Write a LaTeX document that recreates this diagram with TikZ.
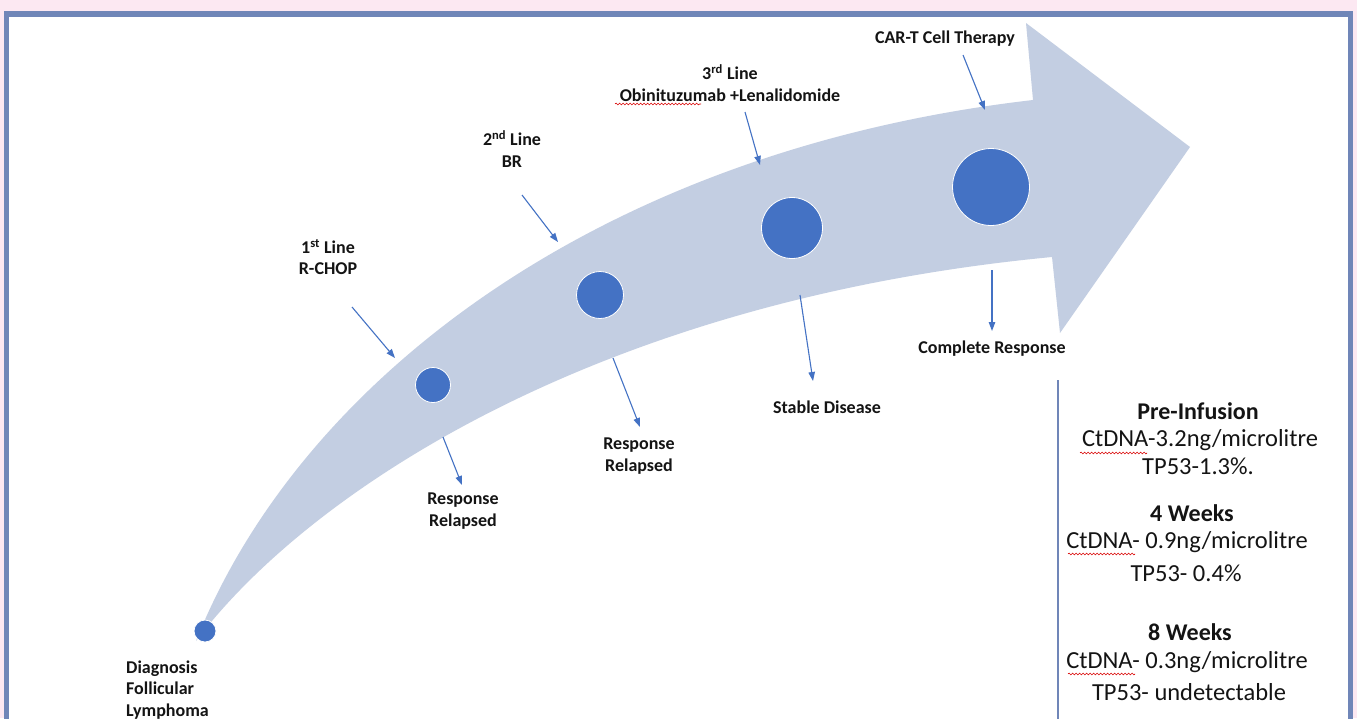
\documentclass[tikz,border=0pt]{standalone}
\usepackage{fontspec}
\setmainfont{Carlito}
\usetikzlibrary{arrows.meta,decorations.pathmorphing}
\definecolor{pinkbg}{RGB}{252,232,242}
\definecolor{frameblue}{RGB}{112,134,184}
\definecolor{band}{RGB}{195,206,226}
\definecolor{dotblue}{RGB}{68,114,196}
\definecolor{txt}{RGB}{20,20,20}
\tikzset{
 milestone/.style={circle,fill=dotblue,draw=white,line width=0.8pt,inner sep=0pt},
 lbl/.style={font=\bfseries\fontsize{18}{21.5}\selectfont,align=center,inner sep=0pt,text=txt},
 ptr/.style={draw=dotblue,line width=1.1pt,-{Triangle[length=9pt,width=6.5pt]}},
 info/.style={font=\fontsize{24.5}{28}\selectfont,inner sep=0pt,text=txt},
 infob/.style={font=\bfseries\fontsize{24}{28}\selectfont,inner sep=0pt,text=txt},
 squig/.style={draw=red!85!black,line width=0.6pt,decorate,decoration={snake,amplitude=0.9pt,segment length=3.5pt}},
}
\begin{document}
\begin{tikzpicture}[x=1pt,y=-1pt]
\useasboundingbox (0,0) rectangle (1357,718);
\clip (0,0) rectangle (1357,718);
% background and frame
\fill[pinkbg] (0,0) rectangle (1357,718);
\fill[white] (4,11) rectangle (1353,740);
\draw[frameblue,line width=5.5pt] (6.5,14) rectangle (1350.5,740);
% curved arrow band
\fill[band] (196,641) .. controls (300,380) and (600,150) .. (1033,100)
  -- (1026,23) -- (1190,147) -- (1060,333) -- (1052,257)
  .. controls (600,300) and (310,490) .. (196,641) -- cycle;
% milestones
\node[milestone,minimum size=22pt] (m0) at (205,631) {};
\node[milestone,minimum size=35pt] (m1) at (433,385) {};
\node[milestone,minimum size=47pt] (m2) at (600,295) {};
\node[milestone,minimum size=61pt] (m3) at (792,228) {};
\node[milestone,minimum size=77pt] (m4) at (991,187) {};
% labels
\node[lbl] (l1) at (328,257) {1\textsuperscript{st} Line\\R-CHOP};
\node[lbl] (l2) at (512,149) {2\textsuperscript{nd} Line\\BR};
\node[lbl] (l3) at (730,83) {3\textsuperscript{rd} Line\\Obinituzumab +Lenalidomide};
\node[lbl] (l4) at (945,39) {CAR-T Cell Therapy};
\node[lbl] (r1) at (463,511) {Response\\Relapsed};
\node[lbl] (r2) at (639,456) {Response\\Relapsed};
\node[lbl] (r3) at (827,407) {Stable Disease};
\node[lbl] (r4) at (992,349) {Complete Response};
\node[lbl,align=left,anchor=west] (dx) at (126,690) {Diagnosis\\Follicular\\Lymphoma};
% pointer end points
\coordinate (a1s) at (352,307); \coordinate (a1e) at (395,358);
\coordinate (a2s) at (522,195); \coordinate (a2e) at (558,242);
\coordinate (a3s) at (745,112); \coordinate (a3e) at (760,165);
\coordinate (a4s) at (963,55);  \coordinate (a4e) at (985,110);
\coordinate (b1s) at (443,437); \coordinate (b1e) at (462,485);
\coordinate (b2s) at (613,358); \coordinate (b2e) at (640,427);
\coordinate (b3s) at (800,295); \coordinate (b3e) at (813,381);
\coordinate (b4s) at (992,270); \coordinate (b4e) at (992,331);
\draw[ptr] (a1s) -- (a1e);
\draw[ptr] (a2s) -- (a2e);
\draw[ptr] (a3s) -- (a3e);
\draw[ptr] (a4s) -- (a4e);
\draw[ptr] (b1s) -- (b1e);
\draw[ptr] (b2s) -- (b2e);
\draw[ptr] (b3s) -- (b3e);
\draw[ptr] (b4s) -- (b4e);
% result box line
\coordinate (bxt) at (1058,380); \coordinate (bxb) at (1058,720);
\draw[frameblue,line width=1.4pt] (bxt) -- (bxb);
% result texts
\node[infob] (p0) at (1198,411) {Pre-Infusion};
\node[info]  (p1) at (1200,440) {CtDNA-3.2ng/microlitre};
\node[info]  (p2) at (1198,466) {TP53-1.3\%.};
\node[infob] (w4) at (1192,513) {4 Weeks};
\node[info]  (w41) at (1187,542) {CtDNA- 0.9ng/microlitre};
\node[info]  (w42) at (1186,573) {TP53- 0.4\%};
\node[infob] (w8) at (1190,632) {8 Weeks};
\node[info]  (w81) at (1187,662) {CtDNA- 0.3ng/microlitre};
\node[info]  (w82) at (1189,692) {TP53- undetectable};
% spell-check squiggles
\coordinate (s1a) at (615,104); \coordinate (s1b) at (701,104);
\coordinate (s2a) at (1080,453); \coordinate (s2b) at (1147,453);
\coordinate (s3a) at (1068,554); \coordinate (s3b) at (1135,554);
\coordinate (s4a) at (1068,674); \coordinate (s4b) at (1135,674);
\draw[squig] (s1a) -- (s1b);
\draw[squig] (s2a) -- (s2b);
\draw[squig] (s3a) -- (s3b);
\draw[squig] (s4a) -- (s4b);
\end{tikzpicture}
\end{document}
